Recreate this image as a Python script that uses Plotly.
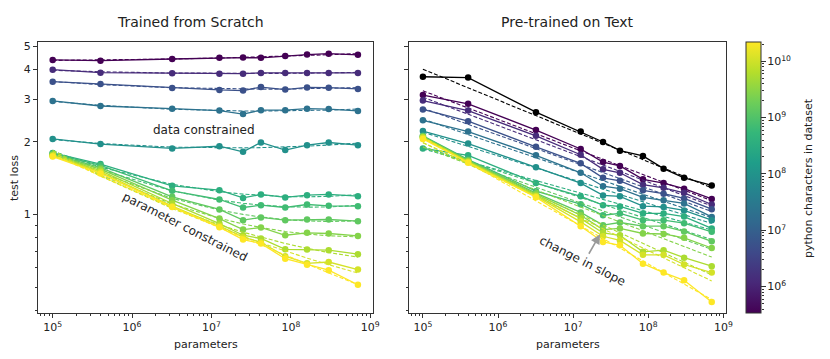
import numpy as np
import plotly.graph_objects as go
from plotly.colors import sample_colorscale

# ---------------- data ----------------
params = [1e5, 4e5, 3.2e6, 1.26e7, 2.5e7, 4.2e7, 8.5e7, 1.6e8, 3e8, 7e8]

# python characters in dataset, one per curve (smallest -> largest)
dataset_chars = [3.4e5, 1.35e6, 5.5e6, 2.2e7, 8.7e7, 3.5e8, 6.9e8,
                 1.38e9, 2.75e9, 5.5e9, 1.1e10, 2.2e10]

scratch_d1 = [4.38, 4.35, 4.42, 4.47, 4.48, 4.47, 4.55, 4.61, 4.65, 4.60]
scratch_d2 = [3.99, 3.88, 3.86, 3.84, 3.84, 3.87, 3.87, 3.87, 3.87, 3.87]
scratch_d3 = [3.56, 3.48, 3.35, 3.29, 3.27, 3.38, 3.30, 3.37, 3.36, 3.32]
scratch_d4 = [2.96, 2.82, 2.75, 2.70, 2.61, 2.71, 2.71, 2.75, 2.74, 2.69]
scratch_d5 = [2.06, 1.96, 1.88, 1.92, 1.82, 1.99, 1.85, 1.94, 1.99, 1.94]
scratch_d6 = [1.80, 1.62, 1.315, 1.262, 1.172, 1.211, 1.177, 1.203, 1.211, 1.191]
scratch_d7 = [1.79, 1.60, 1.254, 1.154, 1.069, 1.093, 1.069, 1.100, 1.086, 1.083]
scratch_d8 = [1.78, 1.565, 1.184, 1.049, 0.947, 0.972, 0.947, 0.953, 0.953, 0.938]
scratch_d9 = [1.77, 1.543, 1.147, 0.962, 0.866, 0.883, 0.820, 0.839, 0.834, 0.815]
scratch_d10 = [1.76, 1.521, 1.111, 0.917, 0.820, 0.795, 0.717, 0.715, 0.711, 0.684]
scratch_d11 = [1.75, 1.50, 1.083, 0.898, 0.805, 0.767, 0.671, 0.627, 0.635, 0.591]
scratch_d12 = [1.74, 1.48, 1.075, 0.886, 0.787, 0.758, 0.655, 0.618, 0.587, 0.511]

pre_d1 = [3.13, 2.88, 2.24, 1.87, 1.65, 1.59, 1.40, 1.35, 1.28, 1.16]
pre_d2 = [2.97, 2.70, 2.12, 1.77, 1.54, 1.49, 1.33, 1.29, 1.23, 1.10]
pre_d3 = [2.73, 2.44, 1.91, 1.63, 1.42, 1.38, 1.26, 1.22, 1.166, 1.052]
pre_d4 = [2.46, 2.21, 1.76, 1.49, 1.31, 1.28, 1.177, 1.147, 1.111, 0.977]
pre_d5 = [2.22, 1.97, 1.57, 1.35, 1.20, 1.19, 1.083, 1.075, 1.04, 0.947]
pre_d6 = [1.88, 1.76, 1.35, 1.19, 1.093, 1.08, 1.01, 1.01, 0.98, 0.875]
pre_d7 = [2.12, 1.69, 1.25, 1.104, 0.993, 1.01, 0.947, 0.947, 0.92, 0.847]
pre_d8 = [2.11, 1.68, 1.226, 1.02, 0.903, 0.926, 0.894, 0.894, 0.85, 0.774]
pre_d9 = [2.10, 1.67, 1.215, 0.993, 0.866, 0.875, 0.834, 0.83, 0.80, 0.726]
pre_d10 = [2.09, 1.66, 1.20, 0.963, 0.838, 0.82, 0.70, 0.711, 0.662, 0.610]
pre_d11 = [2.08, 1.65, 1.19, 0.932, 0.812, 0.78, 0.68, 0.68, 0.62, 0.574]
pre_d12 = [2.06, 1.64, 1.18, 0.894, 0.769, 0.745, 0.625, 0.574, 0.533, 0.433]

# loss on text of the pre-trained models (black curve) and its fitted trend ends
text_loss = [3.73, 3.70, 2.66, 2.21, 2.00, 1.84, 1.75, 1.55, 1.42, 1.32]
text_fit_params = [1e5, 7e8]
text_fit_loss = [4.01, 1.29]

scratch = [scratch_d1, scratch_d2, scratch_d3, scratch_d4, scratch_d5, scratch_d6,
           scratch_d7, scratch_d8, scratch_d9, scratch_d10, scratch_d11, scratch_d12]
pretrained = [pre_d1, pre_d2, pre_d3, pre_d4, pre_d5, pre_d6,
              pre_d7, pre_d8, pre_d9, pre_d10, pre_d11, pre_d12]

x_ticks = [1e5, 1e6, 1e7, 1e8, 1e9]
x_ticktext = ["10<sup>5</sup>", "10<sup>6</sup>", "10<sup>7</sup>", "10<sup>8</sup>", "10<sup>9</sup>"]
y_ticks = [1, 2, 3, 4, 5]
y_ticktext = ["1", "2", "3", "4", "5"]
y_minor = [0.4, 0.5, 0.6, 0.7, 0.8, 0.9]
cb_ticks = [6, 7, 8, 9, 10]
cb_ticktext = ["10<sup>6</sup>", "10<sup>7</sup>", "10<sup>8</sup>", "10<sup>9</sup>", "10<sup>10</sup>"]

# ---------------- figure ----------------
FONT = "DejaVu Sans"
TXT = "#222"
OFF = 8                                   # page body margin of the html page
W, H = 830 - OFF, 359 - OFF
ML, MR, MT, MB = 38 - OFF, 0, 42 - OFF, 359 - 313   # plot rows 42..313 px, from x=38
PW, PH = W - ML - MR, H - MT - MB


def px(xp):   # paper x from window pixel
    return (xp - OFF - ML) / PW


def py(yp):   # paper y from window pixel
    return (H - MB - (yp - OFF)) / PH


logD = np.log10(dataset_chars)
cmin, cmax = logD.min(), logD.max()
colors = sample_colorscale("Viridis", list((logD - cmin) / (cmax - cmin)))

lp = np.log10(params)
fig = go.Figure()


def add_series(vals, color, xa, ya, deg):
    lv = np.log10(vals)
    coef = np.polyfit(lp, lv, deg)          # least-squares trend of the read values
    fit = 10 ** np.polyval(coef, lp)
    fig.add_trace(go.Scatter(x=params, y=fit, mode="lines", xaxis=xa, yaxis=ya,
                             line=dict(color=color, width=1.1, dash="4px,2px"),
                             showlegend=False, hoverinfo="skip"))
    fig.add_trace(go.Scatter(x=params, y=vals, mode="lines+markers", xaxis=xa, yaxis=ya,
                             line=dict(color=color, width=1.3),
                             marker=dict(color=color, size=6.5),
                             showlegend=False))


for vals, c in zip(scratch, colors):
    add_series(vals, c, "x", "y", 2)

fig.add_trace(go.Scatter(x=text_fit_params, y=text_fit_loss, mode="lines", xaxis="x2", yaxis="y2",
                         line=dict(color="black", width=1.1, dash="4px,2px"),
                         showlegend=False, hoverinfo="skip"))
fig.add_trace(go.Scatter(x=params, y=text_loss, mode="lines+markers", xaxis="x2", yaxis="y2",
                         line=dict(color="black", width=1.3),
                         marker=dict(color="black", size=6.5), showlegend=False))
for vals, c in zip(pretrained, colors):
    add_series(vals, c, "x2", "y2", 1)

# colorbar carrier
fig.add_trace(go.Scatter(x=[None], y=[None], mode="markers", xaxis="x2", yaxis="y2",
                         marker=dict(color=[cmin], cmin=cmin, cmax=cmax, colorscale="Viridis",
                                     showscale=True,
                                     colorbar=dict(
                                         thickness=15, len=1, lenmode="fraction",
                                         x=px(746), xanchor="left", y=0.5, yanchor="middle",
                                         xpad=0, ypad=0,
                                         outlinewidth=1, outlinecolor="#333",
                                         tickmode="array", tickvals=cb_ticks, ticktext=cb_ticktext,
                                         ticks="outside", ticklen=4, tickcolor="#333",
                                         tickfont=dict(family=FONT, size=11, color=TXT))),
                         showlegend=False, hoverinfo="skip"))
# log minor ticks next to the colorbar, through an overlaid log axis with the colorbar's range
fig.add_trace(go.Scatter(x=[1e6], y=[1e7], mode="markers", xaxis="x2", yaxis="y3",
                         marker=dict(size=1, opacity=0), showlegend=False, hoverinfo="skip"))

xr = [4.815, 9.035]
yr = [np.log10(0.39), np.log10(5.2)]
common_x = dict(type="log", range=xr, tickmode="array", tickvals=x_ticks, ticktext=x_ticktext,
                ticks="outside", ticklen=4, tickcolor="#333", showline=True, linecolor="#333",
                linewidth=1, mirror=True, showgrid=False, zeroline=False, automargin=False,
                tickfont=dict(family=FONT, size=11, color=TXT),
                minor=dict(ticks="outside", ticklen=2, tickcolor="#333",
                           tickvals=[m * 10 ** e for e in range(4, 10) for m in range(2, 10)]))
common_y = dict(type="log", range=yr, tickmode="array", tickvals=y_ticks, ticktext=y_ticktext,
                ticks="outside", ticklen=4, tickcolor="#333", showline=True, linecolor="#333",
                linewidth=1, mirror=True, showgrid=False, zeroline=False, automargin=False,
                tickfont=dict(family=FONT, size=11, color=TXT),
                minor=dict(ticks="outside", ticklen=2, tickcolor="#333", tickvals=y_minor))

fig.update_layout(
    width=W, height=H, margin=dict(l=ML, r=MR, t=MT, b=MB),
    paper_bgcolor="white", plot_bgcolor="white",
    font=dict(family=FONT, size=11, color=TXT),
    xaxis=dict(domain=[0, px(373)], anchor="y", **common_x),
    yaxis=dict(domain=[0, 1], anchor="x", **common_y),
    xaxis2=dict(domain=[px(409), px(726)], anchor="y2", **common_x),
    yaxis2=dict(domain=[0, 1], anchor="x2", showticklabels=False, **common_y),
    yaxis3=dict(type="log", range=[cmin, cmax], overlaying="y2", anchor="free", side="right",
                position=px(761), showline=False, showgrid=False, zeroline=False,
                showticklabels=False, automargin=False,
                tickmode="array", tickvals=[10 ** v for v in cb_ticks],
                ticks="outside", ticklen=4, tickcolor="#333",
                minor=dict(ticks="outside", ticklen=2, tickcolor="#333",
                           tickvals=[m * 10 ** e for e in range(5, 11) for m in range(2, 10)])),
)

# titles and axis titles
fig.add_annotation(text="Trained from Scratch", xref="paper", yref="paper",
                   x=px(190), y=py(22), xanchor="center", yanchor="middle", showarrow=False,
                   font=dict(family=FONT, size=14, color=TXT))
fig.add_annotation(text="Pre-trained on Text", xref="paper", yref="paper",
                   x=px(567), y=py(22), xanchor="center", yanchor="middle", showarrow=False,
                   font=dict(family=FONT, size=14, color=TXT))
for cx in (px((38 + 373) / 2), px((409 + 726) / 2)):
    fig.add_annotation(text="parameters", xref="paper", yref="paper", x=cx, y=py(344),
                       xanchor="center", yanchor="middle", showarrow=False,
                       font=dict(family=FONT, size=11, color=TXT))
fig.add_annotation(text="test loss", xref="paper", yref="paper", x=px(14), y=py(178),
                   xanchor="center", yanchor="middle", textangle=-90, showarrow=False,
                   font=dict(family=FONT, size=11, color=TXT))
fig.add_annotation(text="python characters in dataset", xref="paper", yref="paper",
                   x=px(808), y=py(178), xanchor="center", yanchor="middle", textangle=-90,
                   showarrow=False, font=dict(family=FONT, size=11, color=TXT))

# in-plot labels
fig.add_annotation(text="data constrained", xref="x", yref="y", x=6.9, y=0.3505,
                   showarrow=False, font=dict(family=FONT, size=12, color=TXT))
fig.add_annotation(text="parameter constrained", xref="x", yref="y", x=6.669, y=-0.0528,
                   textangle=27, showarrow=False, font=dict(family=FONT, size=12, color=TXT))
fig.add_annotation(text="change in slope", xref="x2", yref="y2", x=7.125, y=-0.194,
                   textangle=27, showarrow=False, font=dict(family=FONT, size=12, color=TXT))
fig.add_annotation(text="", xref="x2", yref="y2", x=7.358, y=-0.082, ax=-12, ay=21,
                   showarrow=True, arrowhead=2, arrowsize=1.2, arrowwidth=1.6, arrowcolor="#999")

fig.write_html("out.html")
